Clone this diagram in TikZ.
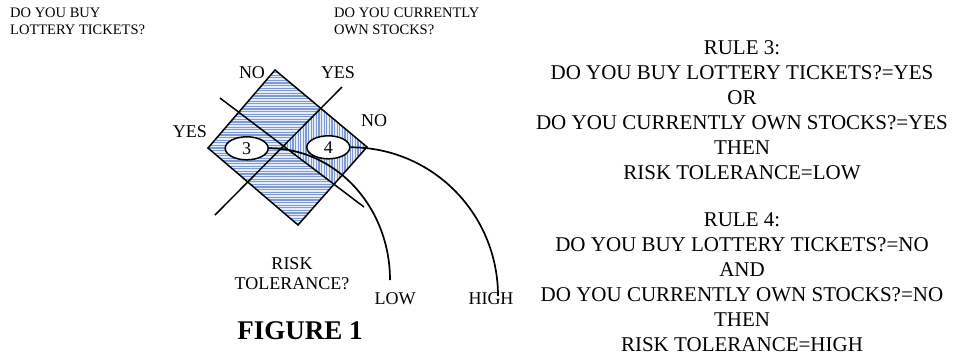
\documentclass[tikz,border=0pt]{standalone}
\usepackage{fontspec}
\setmainfont{Liberation Serif}
\usetikzlibrary{shapes.geometric}
\definecolor{stripeblue}{RGB}{125,155,210}
\definecolor{stripepale}{RGB}{228,236,248}
\tikzset{
  lbl/.style={inner sep=0pt, font=\fontsize{18}{20}\selectfont},
  question/.style={inner sep=0pt, align=left, anchor=north west, font=\fontsize{14.5}{16.7}\selectfont},
  rule/.style={inner sep=0pt, align=center, anchor=north, font=\fontsize{21}{25}\selectfont},
  bline/.style={draw=black, line width=1.5pt},
  curve/.style={draw=black, line width=1.7pt},
  oval/.style={ellipse, draw=black, line width=1.5pt, fill=white, minimum width=43pt, minimum height=23pt, inner sep=0pt, font=\fontsize{18}{20}\selectfont},
  hstripe/.style={draw=stripeblue, line width=1.3pt},
  vstripe/.style={draw=stripeblue, line width=1.3pt},
}
\begin{document}
\begin{tikzpicture}[x=1pt, y=-1pt]
\useasboundingbox (0,0) rectangle (953,357);
% diamond corners
\coordinate (T) at (275,70);
\coordinate (R) at (367,147);
\coordinate (B) at (298,225);
\coordinate (L) at (208,148);
% crossing lines
\coordinate (a1) at (220,98);
\coordinate (a2) at (364,207);
\coordinate (b1) at (342,87);
\coordinate (b2) at (215,215);
\coordinate (C) at (intersection of a1--a2 and b1--b2);
\coordinate (q1) at (intersection of T--R and b1--b2);
\coordinate (q2) at (intersection of R--B and a1--a2);
% horizontal stripes
\begin{scope}
  \clip (T) -- (R) -- (B) -- (L) -- cycle;
  \fill[stripepale] (200,60) rectangle (380,230);
  \foreach \y in {70,72.6,...,228} \draw[hstripe] (200,\y) -- (380,\y);
\end{scope}
% vertical stripes
\begin{scope}
  \clip (q1) -- (R) -- (q2) -- (C) -- cycle;
  \fill[stripepale] (280,100) rectangle (370,190);
  \foreach \x in {280,282.6,...,372} \draw[vstripe] (\x,100) -- (\x,190);
\end{scope}
\draw[bline, line join=miter] (T) -- (R) -- (B) -- (L) -- cycle;
\draw[bline] (a1) -- (a2);
\draw[bline] (b1) -- (b2);
% ovals
\node[oval] (e3) at (246.7,148.3) {3};
\node[oval] (e4) at (328.3,147.3) {4};
% end points of connectors
\coordinate (lowend) at (390,280);
\coordinate (highend) at (498,296);
\draw[curve] (e3.east) .. controls +(67,0) and +(0,-73) .. (lowend);
\draw[curve] (e4.east) .. controls +(82,0) and +(0,-82) .. (highend);
% labels
\node[lbl] (no1) at (252,73) {NO};
\node[lbl] (yes1) at (338,73) {YES};
\node[lbl] (no2) at (374,121) {NO};
\node[lbl] (yes2) at (190,132) {YES};
\node[lbl, align=center] (risk) at (292,274) {RISK\\TOLERANCE?};
\node[lbl] (low) at (395,299) {LOW};
\node[lbl] (high) at (491,299) {HIGH};
\node[inner sep=0pt, font=\fontsize{27}{30}\selectfont\bfseries] (fig) at (300,331) {FIGURE 1};
% questions
\node[question] (q1t) at (10,8) {DO YOU BUY\\LOTTERY TICKETS?};
\node[question] (q2t) at (334,8) {DO YOU CURRENTLY\\OWN STOCKS?};
% rules
\node[rule] (rule3) at (742,40) {RULE 3:\\DO YOU BUY LOTTERY TICKETS?=YES\\OR\\DO YOU CURRENTLY OWN STOCKS?=YES\\THEN\\RISK TOLERANCE=LOW};
\node[rule] (rule4) at (742,212) {RULE 4:\\DO YOU BUY LOTTERY TICKETS?=NO\\AND\\DO YOU CURRENTLY OWN STOCKS?=NO\\THEN\\RISK TOLERANCE=HIGH};
\end{tikzpicture}
\end{document}
